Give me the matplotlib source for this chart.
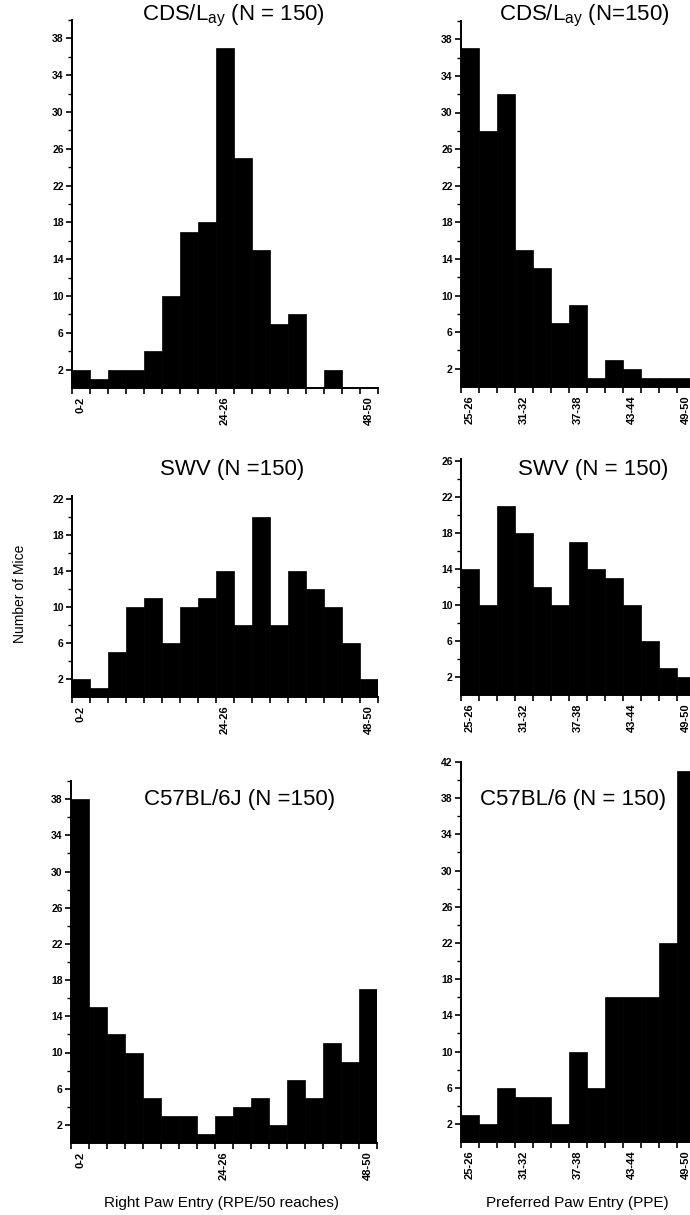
import numpy as np
import matplotlib
matplotlib.use('Agg')
from matplotlib import pyplot as plt
from matplotlib.ticker import FixedLocator

plt.rcParams['font.family'] = ['Liberation Sans', 'DejaVu Sans']
plt.rcParams['mathtext.fontset'] = 'custom'
plt.rcParams['mathtext.rm'] = 'Liberation Sans'

# bins
rpe_bins = ['%d-%d' % (a, a + 2) for a in range(0, 49, 3)]
ppe_bins = ['%d-%d' % (a, a + 1) for a in range(25, 50, 2)]
rpe_shown = ['0-2', '24-26', '48-50']
ppe_shown = ['25-26', '31-32', '37-38', '43-44', '49-50']

# number of mice per bin
cds_rpe = [2, 1, 2, 2, 4, 10, 17, 18, 37, 25, 15, 7, 8, 0, 2, 0, 0]
cds_ppe = [37, 28, 32, 15, 13, 7, 9, 1, 3, 2, 1, 1, 1]
swv_rpe = [2, 1, 5, 10, 11, 6, 10, 11, 14, 8, 20, 8, 14, 12, 10, 6, 2]
swv_ppe = [14, 10, 21, 18, 12, 10, 17, 14, 13, 10, 6, 3, 2]
c57_rpe = [38, 15, 12, 10, 5, 3, 3, 1, 3, 4, 5, 2, 7, 5, 11, 9, 17]
c57_ppe = [3, 2, 6, 5, 5, 2, 10, 6, 16, 16, 16, 22, 41]

titles_left = [r'CDS/L$_{\mathregular{ay}}$ (N = 150)', 'SWV (N =150)', 'C57BL/6J (N =150)']
titles_right = [r'CDS/L$_{\mathregular{ay}}$ (N=150)', 'SWV (N = 150)', 'C57BL/6 (N = 150)']

W, H = 690, 1215
fig = plt.figure(figsize=(W / 100, H / 100), dpi=100)


def add_ax(x0, x1, ytop, ybot):
    return fig.add_axes([x0 / W, 1 - ybot / H, (x1 - x0) / W, (ybot - ytop) / H])


def hist(ax, counts, bins, shown, ymax, ymajor_top):
    n = len(counts)
    ax.bar(np.arange(n), counts, width=1.0, align='edge', color='black', edgecolor='black', linewidth=0.5)
    ax.set_xlim(0, n)
    ax.set_ylim(0, ymax)
    for s in ['top', 'right']:
        ax.spines[s].set_visible(False)
    for s in ['left', 'bottom']:
        ax.spines[s].set_linewidth(1.4)
    ax.set_xticks(np.arange(n + 1))
    ax.set_xticklabels([])
    idx = [bins.index(b) + 0.5 for b in shown]
    ax.xaxis.set_minor_locator(FixedLocator(idx))
    ax.set_xticklabels(shown, minor=True, rotation=90, fontsize=8, fontweight='bold', va='top')
    ax.tick_params(axis='x', which='major', length=4, width=1.2, direction='out')
    ax.tick_params(axis='x', which='minor', length=0, pad=6)
    ax.set_yticks(np.arange(2, ymajor_top + 1, 4))
    ax.yaxis.set_minor_locator(FixedLocator(np.arange(4, ymax + 0.01, 4)))
    ax.tick_params(axis='y', which='major', length=4, width=1.2, labelsize=7.5, pad=2)
    ax.tick_params(axis='y', which='minor', length=3, width=1.0)
    for lab in ax.get_yticklabels():
        lab.set_fontweight('bold')


# row 1
a = add_ax(72, 378, 20, 388)
hist(a, cds_rpe, rpe_bins, rpe_shown, 40, 38)
a = add_ax(461, 695, 21, 387)
hist(a, cds_ppe, ppe_bins, ppe_shown, 40, 38)
# row 2
a = add_ax(72, 378, 496, 697)
hist(a, swv_rpe, rpe_bins, rpe_shown, 22.3, 22)
a = add_ax(461, 695, 459, 695)
hist(a, swv_ppe, ppe_bins, ppe_shown, 26.2, 26)
# row 3
a = add_ax(71, 377, 781, 1143)
hist(a, c57_rpe, rpe_bins, rpe_shown, 40, 38)
a = add_ax(461, 695, 762, 1142)
hist(a, c57_ppe, ppe_bins, ppe_shown, 42, 42)

# titles
title_pos = [(233, 16), (232, 470), (240, 800)]
for (x, y), t in zip(title_pos, titles_left):
    fig.text(x / W, 1 - y / H, t, fontsize=16, ha='center', va='center')
title_pos = [(584, 16), (593, 470), (573, 800)]
for (x, y), t in zip(title_pos, titles_right):
    fig.text(x / W, 1 - y / H, t, fontsize=16, ha='center', va='center')

fig.text(20 / W, 1 - 594 / H, 'Number of Mice', rotation=90, fontsize=10, ha='center', va='center')
fig.text(222 / W, 1 - 1203 / H, 'Right Paw Entry (RPE/50 reaches)', fontsize=11, ha='center', va='center')
fig.text(577 / W, 1 - 1203 / H, 'Preferred Paw Entry (PPE)', fontsize=11, ha='center', va='center')

fig.savefig('out.png', dpi=100)
